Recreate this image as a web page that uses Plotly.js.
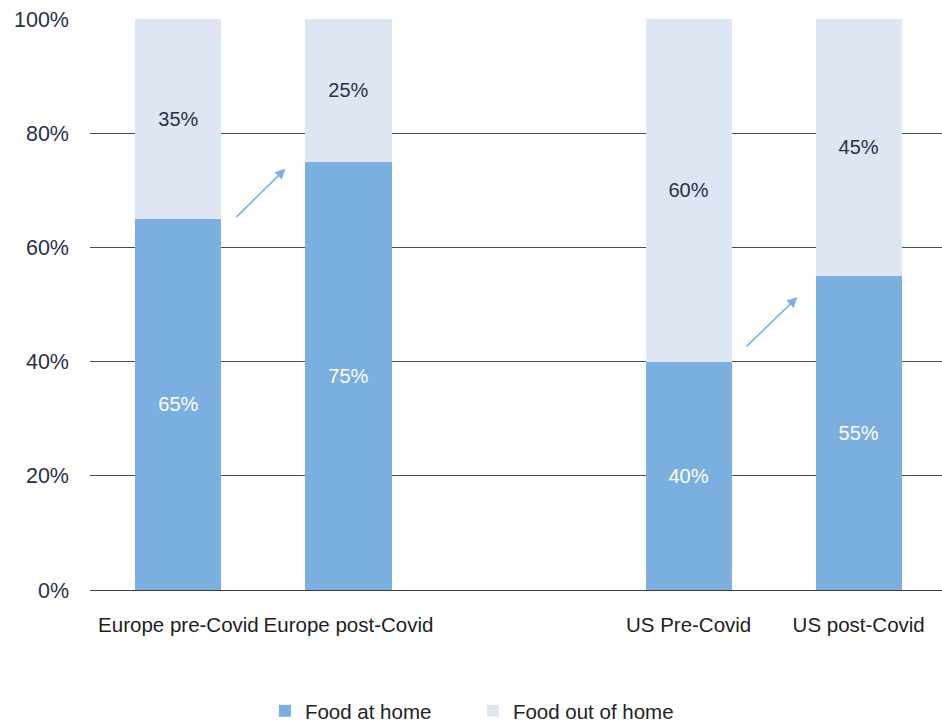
<!DOCTYPE html>
<html>
<head>
<meta charset="utf-8">
<script src="https://cdn.plot.ly/plotly-3.0.1.min.js"></script>
<style>html,body{margin:0;padding:0;background:#fff;}#chart{width:942px;height:724px;}</style>
</head>
<body>
<div id="chart"></div>
<script>
var categories = ['Europe pre-Covid', 'Europe post-Covid', 'US Pre-Covid', 'US post-Covid'];
var foodAtHome = [65, 75, 40, 55];
var foodOutOfHome = [35, 25, 60, 45];
var seriesNames = ['Food at home', 'Food out of home'];
var yTickVals = [0, 20, 40, 60, 80, 100];
var yTickText = ['0%', '20%', '40%', '60%', '80%', '100%'];

var darkBlue = '#7aafdf';
var lightBlue = '#dfe6f3';
var textDark = '#2c3047';
var fontFamily = 'Liberation Sans, Arial, sans-serif';
var spacer = ' ';
var catOrder = [categories[0], categories[1], spacer, categories[2], categories[3]];

function pct(arr){ return arr.map(function(v){ return v + '%'; }); }

var traces = [
  {
    type: 'bar', name: seriesNames[0], x: categories, y: foodAtHome,
    marker: {color: darkBlue}, width: 0.506,
    text: pct(foodAtHome), textposition: 'inside', insidetextanchor: 'middle',
    textfont: {color: '#ffffff', size: 20, family: fontFamily},
    hoverinfo: 'skip'
  },
  {
    type: 'bar', name: seriesNames[1], x: categories, y: foodOutOfHome,
    marker: {color: lightBlue}, width: 0.506,
    text: pct(foodOutOfHome), textposition: 'inside', insidetextanchor: 'middle',
    textfont: {color: textDark, size: 20, family: fontFamily},
    hoverinfo: 'skip'
  }
];

var arrowStyle = {showarrow: true, arrowhead: 2, arrowsize: 1.3, arrowwidth: 1.6, arrowcolor: darkBlue,
  xref: 'x', yref: 'y', axref: 'x', ayref: 'y', text: ''};

var layout = {
  width: 942, height: 724,
  margin: {l: 90, r: 0, t: 19, b: 134},
  paper_bgcolor: '#ffffff', plot_bgcolor: '#ffffff',
  barmode: 'stack',
  font: {family: fontFamily, size: 20, color: textDark},
  showlegend: true,
  legend: {orientation: 'h', xref: 'container', yref: 'container', x: 0.502, xanchor: 'center', y: 0.018, yanchor: 'middle',
    font: {size: 20.5, color: '#222222', family: fontFamily}, traceorder: 'normal', itemwidth: 30, entrywidth: 163},
  xaxis: {
    type: 'category', categoryorder: 'array', categoryarray: catOrder,
    range: [-0.52, 4.49], showgrid: false, zeroline: false, showline: false,
    ticks: '', ticklabelstandoff: 20,
    tickfont: {size: 20.5, color: '#1e1e1e', family: fontFamily}, fixedrange: true
  },
  yaxis: {
    range: [0, 100], tickvals: yTickVals, ticktext: yTickText,
    showgrid: true, gridcolor: '#474b5c', gridwidth: 1,
    zeroline: true, zerolinecolor: '#3a3e50', zerolinewidth: 1,
    showline: false, ticks: '', ticklabelstandoff: 20,
    tickfont: {size: 21.5, color: textDark, family: fontFamily}, fixedrange: true
  },
  annotations: [
    Object.assign({}, arrowStyle, {x: 0.63, y: 73.8, ax: 0.333, ay: 65.1}),
    Object.assign({}, arrowStyle, {x: 3.64, y: 51.3, ax: 3.332, ay: 42.4})
  ]
};

Plotly.newPlot('chart', traces, layout, {displayModeBar: false, staticPlot: true});
</script>
</body>
</html>
